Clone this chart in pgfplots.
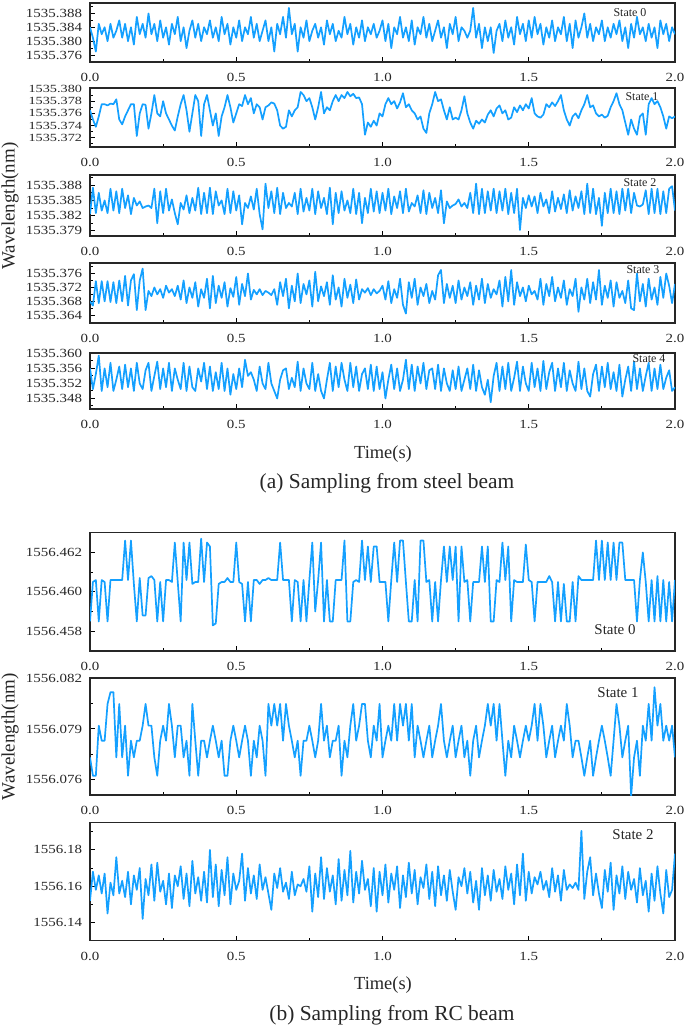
\documentclass[border=0pt]{standalone}
\usepackage{fontspec}
\setmainfont{Liberation Serif}
\newfontfamily\tickfont{Liberation Serif}[FakeStretch=1.2]
\newfontfamily\tickfontn{Liberation Serif}[FakeStretch=1.3]
\usepackage{pgfplots}
\usepackage{pgfplotstable}
\pgfplotsset{compat=1.18}
\definecolor{lineblue}{RGB}{20,160,255}
% Values: wavelength minus 1535 nm (panels a) or minus 1556 nm (panels b), in pm (0.001 nm); sampled every 0.01 s
\pgfplotstableread[header=false,row sep=\\]{
384\\381\\377\\385\\382\\384\\380\\385\\381\\383\\
386\\381\\385\\380\\384\\379\\387\\382\\385\\381\\
388\\382\\385\\380\\386\\381\\384\\379\\385\\382\\
387\\380\\384\\378\\383\\386\\381\\385\\380\\384\\
382\\386\\381\\384\\380\\387\\382\\385\\379\\384\\
381\\386\\380\\384\\382\\387\\381\\385\\380\\383\\
386\\380\\384\\377\\385\\382\\387\\381\\389.6\\382\\
385\\377\\384\\381\\386\\380\\383\\385\\381\\384\\
379\\386\\382\\385\\380\\383\\381\\387\\382\\385\\
379\\384\\381\\386\\380\\384\\382\\385\\381\\383\\
386\\380\\385\\378\\384\\382\\387\\381\\384\\380\\
386\\379\\384\\382\\387\\381\\385\\380\\383\\386\\
381\\384\\378\\385\\382\\387\\380\\384\\383\\381\\
383\\389.6\\381\\385\\378\\384\\380\\384\\376.6\\383\\
385\\380\\386\\381\\384\\379\\387\\382\\385\\380\\
386\\381\\387\\382\\385\\379\\384\\381\\386\\380\\
384\\382\\387\\380\\385\\378\\386\\381\\384\\388\\
381\\385\\380\\384\\382\\386\\380\\384\\381\\385\\
382\\386\\380\\384\\378\\385\\381\\387\\382\\384\\
380\\385\\381\\384\\378\\386\\382\\385\\380\\384\\
382\\}\dataAzero
\pgfplotstableread[header=false,row sep=\\]{
376.5\\375\\373.8\\375.5\\377.5\\377.5\\377.3\\377.6\\377.5\\378.3\\
375\\374.2\\375.5\\376.5\\377.5\\377.5\\372.3\\376\\377.5\\377.4\\
373.5\\376\\379\\376\\375.5\\378\\376\\375\\374\\373.2\\
375.5\\377.5\\379\\376.5\\373\\376\\379\\378\\372.3\\377.5\\
379\\376.5\\374\\376\\372.3\\375.5\\377\\379\\377\\374.5\\
376\\377.5\\377.2\\379\\377.5\\378.5\\376\\377.5\\377\\375\\
377\\377.3\\377.8\\377.6\\376.5\\374\\373.5\\373.8\\376.5\\375.5\\
376.5\\377\\379.5\\379\\378\\378.5\\377\\375\\377\\379.5\\
376\\377\\376.5\\378\\379\\378\\379\\378.5\\379.5\\378.8\\
379.2\\378.5\\378.6\\377.5\\372.5\\374.5\\373.8\\374.8\\374\\376\\
375.5\\377.5\\378.5\\377.5\\378\\376.8\\377.8\\379.3\\377\\377.5\\
376.5\\376\\375\\375.5\\373.5\\372.8\\376\\377.5\\379.5\\378\\
378.3\\376.5\\375\\377\\375\\375.3\\375\\376.5\\378.8\\376\\
374.5\\373.5\\374.8\\374.3\\375\\374.5\\375.8\\376.5\\375.5\\376.8\\
377.3\\376\\376.5\\375\\375.3\\377\\376.2\\377.3\\376.5\\377.5\\
376.8\\378.5\\376\\375.5\\375.3\\375.8\\377.5\\377\\377.8\\377.2\\
378\\379\\376.5\\375\\374\\375.5\\376\\375.2\\376.5\\377.5\\
379\\377\\377.3\\376\\375.5\\375.8\\375.3\\375.6\\377\\378\\
379.3\\377.5\\376.5\\374.5\\372.5\\375\\373.5\\372.5\\375.5\\376\\
372.5\\377.5\\378.5\\377.5\\378\\377\\375.5\\373.5\\375.5\\375.2\\
375.5\\}\dataAone
\pgfplotstableread[header=false,row sep=\\]{
382.3\\387.5\\382.5\\386.5\\383\\385\\382.5\\387.3\\383\\386.8\\
382.5\\387.3\\383.5\\386\\382.3\\385.5\\384\\384.8\\383.5\\383.8\\
384\\383.5\\387.3\\380.5\\386.8\\382.5\\387.3\\383\\385.2\\382.5\\
380.3\\384.5\\383.2\\386\\382.5\\385.5\\383\\387.5\\382.3\\386.5\\
382.5\\387.5\\382.3\\386.8\\384\\385\\382.3\\387.3\\382.5\\386.8\\
383\\386\\380.3\\384.5\\383.5\\385.8\\383.2\\387.3\\382.3\\379.3\\
388.3\\383.5\\386.8\\382.5\\387.5\\382.3\\386.5\\383.5\\384.5\\383.8\\
386.5\\382.3\\387.3\\382.8\\385.5\\383\\387.3\\382.3\\386.8\\383.5\\
385.5\\382.3\\387.5\\380.3\\386.5\\382.5\\386.8\\383\\385\\382.5\\
387.3\\382.3\\386.5\\380.5\\385.5\\382.5\\387.3\\382.8\\386.8\\382.5\\
386.5\\383\\387.3\\382.3\\385.8\\383.5\\386.8\\382.5\\387.3\\382.8\\
384.5\\383.8\\386\\382.5\\387\\382.3\\386.5\\383.5\\385.5\\382.5\\
387\\380.5\\384.8\\383.5\\384\\384.3\\385.2\\383.8\\384.5\\383.5\\
386.5\\382.5\\388.3\\382.3\\387.3\\382.5\\386.8\\383\\387.3\\382.5\\
386.8\\383\\387.3\\382.3\\386.5\\382.5\\387.3\\379.2\\385.5\\383.5\\
386\\383.8\\385.8\\382.5\\386.5\\383.8\\385.2\\382.5\\386.8\\382.8\\
385.5\\383.3\\386.2\\382.5\\387\\383\\385.8\\383.5\\386.8\\382.3\\
388.3\\382.5\\387.3\\382.3\\385.5\\380\\386.5\\382.5\\387.3\\382.5\\
386.8\\382.3\\387.3\\383\\387.3\\382.5\\386.5\\384\\383.8\\384.2\\
387\\382.3\\387.3\\382.5\\387.3\\382.3\\386.8\\382.5\\387.3\\387.8\\
383\\}\dataAtwo
\pgfplotstableread[header=false,row sep=\\]{
368\\366.8\\373.8\\367.5\\373.8\\368\\373.8\\367.8\\373.5\\367.5\\
374\\368\\375.3\\366.8\\374\\375.8\\365.5\\374\\377.4\\365.5\\
371\\369.5\\372\\370\\371.5\\369\\372.5\\370.5\\371.5\\369.5\\
372.5\\368.5\\374\\367.5\\372\\369\\373.5\\366.5\\371.5\\369\\
374.5\\366\\375.3\\367.5\\372.5\\369\\373.5\\366.5\\371.8\\369.3\\
375\\367\\373\\369.5\\376\\368.5\\371.3\\370\\371.5\\369.8\\
371\\370.5\\369.8\\371.5\\367\\373.5\\369.5\\374.5\\366\\372.5\\
368\\376\\367.5\\373\\370\\374\\366.5\\376.5\\368\\372.3\\
369.5\\373.5\\367\\375.5\\368.5\\372\\366.5\\374.5\\369\\372.8\\
367.5\\374.3\\368.5\\371.5\\370.5\\371.8\\369.8\\371.5\\370.3\\371\\
372.5\\368.5\\373.8\\367.5\\371.5\\369\\374.5\\367\\364.5\\373.5\\
369\\374.5\\367\\372\\369.5\\373\\367.5\\371\\368.5\\375.5\\
377\\367.5\\373\\369\\372.5\\367.5\\374\\368.5\\372\\369.5\\
373.5\\367\\372.5\\368.5\\374.5\\367.5\\373\\369\\371.5\\370\\
374\\366.5\\375\\368\\377\\367\\373.5\\369.5\\372\\368\\
372.5\\370\\371\\368.5\\374.5\\367\\373\\369.5\\375\\368\\
372\\369\\374\\367\\371.5\\369.5\\374.5\\365\\372\\368.5\\
374.5\\367.5\\373.5\\368.5\\377\\367\\372.5\\369\\374\\366.5\\
373.5\\369\\371\\367.5\\374\\366\\365.5\\376\\368\\373\\
366.5\\374.5\\368.5\\372\\367\\375\\369\\376\\372.5\\367.5\\
373\\}\dataAthree
\pgfplotstableread[header=false,row sep=\\]{
356\\350.5\\354.5\\359.4\\350\\356\\351\\357.5\\350\\353\\
356.5\\350.5\\357\\351\\356\\350\\357.5\\352\\350.5\\355.5\\
357.5\\350\\354\\357.8\\350.5\\356\\351\\357.5\\350\\356\\
353\\350.5\\357.5\\350\\356.5\\351\\350\\356\\352.5\\357.5\\
350.5\\356.5\\350\\355\\350.5\\357.5\\350\\356\\349\\354.5\\
350.5\\356\\351\\358.3\\354\\355\\353\\350\\356.5\\352\\
350.5\\357.5\\352\\350\\348\\353\\355.5\\356\\350.5\\353.5\\
351\\357.8\\350\\356\\352\\350.5\\357.5\\350\\354.5\\350\\
348\\353\\357.5\\350\\356.5\\351\\357.5\\353\\350\\357.5\\
351\\356.5\\350\\354.5\\356\\350.5\\357\\350\\356.5\\350.5\\
355\\348\\353\\357\\350.5\\356\\350\\353\\358.3\\350.5\\
357\\350\\356.5\\352\\357.5\\350.5\\355.5\\356\\350.5\\357\\
350\\356\\352\\350\\355.5\\350.5\\356.5\\350\\353\\356\\
350.5\\357\\350\\355.5\\351\\349\\353\\347\\354\\357.5\\
350\\356.5\\350.5\\357.5\\350\\353.5\\357.8\\350\\356.5\\352\\
350\\357.5\\351\\356\\350\\358\\350.5\\355\\357.5\\350\\
356\\351\\357.5\\350\\355.5\\352\\350\\357.8\\350.5\\356\\
350\\348.5\\354.5\\357\\350\\356.5\\351\\357.5\\350.5\\355\\
350\\357\\348.5\\353\\356.5\\350\\357.8\\350.5\\356\\350\\
354\\357.5\\350\\356\\350.5\\357\\350.5\\353.5\\355.5\\350\\
351\\}\dataAfour
\pgfplotstableread[header=false,row sep=\\]{
458.5\\460.5\\460.6\\458.5\\460.6\\460.5\\458.5\\460.6\\460.6\\460.6\\
460.6\\460.6\\462.6\\460.6\\462.6\\460.4\\458.5\\460.7\\458.8\\458.8\\
460.7\\460.8\\460.6\\458.5\\460.5\\458.5\\460.6\\460.6\\460.5\\462.5\\
460.5\\458.5\\462.5\\460.6\\462.5\\460.4\\460.5\\460.5\\462.7\\460.5\\
462.5\\462.3\\458.3\\458.4\\460.4\\460.5\\460.5\\460.7\\460.5\\460.5\\
462.5\\460.5\\460.4\\458.5\\460.5\\458.5\\460.6\\460.6\\460.4\\460.6\\
460.6\\460.7\\460.6\\460.6\\460.6\\462.5\\460.6\\460.6\\460.6\\458.5\\
460.6\\460.5\\458.5\\460.6\\458.5\\460.6\\462.5\\459\\460.6\\462.5\\
458.5\\460.6\\458.5\\458.5\\460.6\\460.6\\460.6\\462.6\\458.5\\458.5\\
460.5\\460.6\\460.5\\462.6\\460.6\\462.3\\460.5\\462.3\\462.3\\460.5\\
460.5\\460.5\\458.5\\460.6\\462.5\\460.5\\462.6\\462.6\\460.5\\458.5\\
458.5\\460.6\\458.5\\462.6\\462.6\\460.5\\460.6\\458.5\\460.5\\458.5\\
460.6\\462.3\\460.5\\462.3\\460.6\\462.3\\458.5\\462.3\\460.5\\460.6\\
458.5\\460.5\\460.5\\460.5\\462.3\\460.5\\462.3\\458.5\\458.5\\460.6\\
460.5\\462.5\\460.6\\462.3\\458.5\\460.6\\460.5\\460.5\\460.5\\462.4\\
460.6\\460.5\\458.5\\460.5\\460.5\\460.5\\460.5\\460.8\\460.5\\458.5\\
460.5\\458.5\\460.4\\458.5\\458.5\\460.5\\458.5\\460.8\\460.6\\460.6\\
460.6\\460.6\\460.6\\462.6\\460.6\\462.6\\460.6\\462.5\\460.6\\462.5\\
460.6\\462.5\\462.5\\460.6\\460.6\\460.6\\460.6\\458.5\\460.6\\462\\
460.5\\458.5\\460.6\\458.5\\460.8\\458.5\\460.6\\458.5\\460.5\\458.5\\
460.6\\}\dataBzero
\pgfplotstableread[header=false,row sep=\\]{
77.3\\76.2\\76.2\\79.2\\78.3\\78.3\\80.5\\81.2\\81.2\\77.3\\
80.5\\77.3\\79.2\\76.2\\78.3\\77.3\\78.3\\78.3\\79.2\\80.5\\
79.2\\79.2\\77.3\\76.2\\78.3\\79.2\\78.3\\80.5\\79.2\\77.3\\
79.2\\79.2\\77.3\\78.3\\76.2\\80.5\\78.3\\76.2\\78.3\\78.3\\
77.3\\78.3\\79.2\\78.3\\77.3\\78.3\\76.2\\76.2\\78.3\\79.2\\
78.3\\77.3\\78.3\\79.2\\78.3\\76.2\\78.3\\77.3\\79.2\\78.3\\
76.2\\80.5\\79.2\\80.5\\79.2\\80.5\\78.3\\80.5\\79.2\\78.3\\
77.3\\78.3\\76.2\\78.3\\78.3\\79.2\\78.3\\77.3\\78.3\\80.5\\
78.3\\79.2\\77.3\\78.3\\78.3\\79.2\\76.2\\78.3\\77.3\\79.2\\
80.5\\78.3\\79.2\\80.5\\80.5\\78.3\\77.3\\79.2\\78.3\\80.5\\
77.3\\78.3\\79.2\\78.3\\80.5\\78.3\\80.5\\79.2\\80.5\\78.3\\
80.5\\77.3\\79.2\\78.3\\77.3\\78.3\\79.2\\77.3\\78.3\\79.2\\
80.5\\78.3\\77.3\\78.3\\79.2\\77.3\\78.3\\79.2\\77.3\\78.3\\
76.2\\78.3\\79.2\\77.3\\78.3\\79.2\\80.5\\79.2\\80.5\\78.3\\
80.5\\78.3\\76.2\\78.3\\77.3\\79.2\\78.3\\77.3\\78.3\\79.2\\
78.3\\79.2\\80.5\\78.3\\80.5\\79.2\\77.3\\78.3\\79.2\\77.3\\
78.3\\79.2\\78.3\\80.5\\79.2\\77.3\\78.3\\78.3\\77.3\\76.2\\
77.3\\78.3\\76.2\\77.3\\78.3\\79.2\\78.3\\77.3\\76.2\\78.3\\
80.5\\79.2\\77.3\\78.3\\79.2\\75.0\\77.3\\78.3\\76.2\\79.2\\
78.3\\80.5\\78.3\\81.5\\79.2\\80.5\\78.3\\79.2\\78.3\\79.2\\
77.3\\}\dataBone
\pgfplotstableread[header=false,row sep=\\]{
152\\168\\158\\166\\156\\167\\145\\162\\155\\176\\
156\\163\\154\\168\\150\\166\\158\\170\\142\\164\\
155\\172\\152\\173\\157\\163\\150\\167\\148\\166\\
160\\171\\153\\167\\149\\174\\156\\165\\152\\168\\
151\\180\\154\\172\\149\\169\\155\\176\\150\\167\\
158\\163\\178\\152\\170\\156\\166\\153\\172\\158\\
165\\156\\147\\167\\159\\170\\157\\162\\153\\168\\
155\\161\\160\\164\\157\\171\\146\\167\\154\\176\\
153\\170\\157\\166\\150\\175\\152\\169\\155\\179.5\\
151\\168\\156\\174\\158\\164\\149\\170\\146\\168\\
155\\172\\151\\167\\158\\171\\148\\166\\154\\173\\
156\\169\\150\\165\\159\\172\\153\\168\\149\\171\\
155\\166\\152\\169\\157\\147\\165\\160\\170\\156\\
168\\151\\163\\147\\170\\155\\166\\152\\169\\157\\
164\\153\\171\\158\\167\\150\\172\\155\\178\\152\\
168\\156\\165\\161\\168\\158\\163\\154\\170\\157\\
166\\152\\169\\158\\161\\159\\162\\158\\190.5\\153\\
168\\176\\155\\167\\156\\148\\169\\157\\173\\147\\
166\\156\\171\\153\\168\\158\\164\\151\\170\\155\\
163\\146\\167\\152\\171\\156\\145\\169\\154\\158\\
178\\}\dataBtwo
\begin{document}
\begin{tikzpicture}
\useasboundingbox (0,0) rectangle (685bp,-1027bp);
\pgfplotsset{
  panel/.style={
    scale only axis, width=585bp, anchor=north west,
    xmin=0, xmax=2,
    xtick={0,0.5,1,1.5,2}, xticklabels={0.0,0.5,1.0,1.5,2.0},
    minor xtick={0.25,0.75,1.25,1.75},
    tick align=inside, xtick pos=bottom, ytick pos=left,
    major tick length=5bp, minor tick length=3bp,
    axis line style={line width=1.2bp, black!85},
    every tick/.style={black, line width=1bp},
    tick label style={font=\tickfont\fontsize{12.5}{12.5}\selectfont, text=black!85},
    xticklabel style={yshift=-8bp},
    yticklabel style={inner sep=0.3bp, xshift=-7.5bp},
    /pgf/number format/assume math mode=true,
  },
  sig/.style={color=lineblue, line width=1.7bp, mark=none, line join=round},
}
% (a) steel beam
\begin{axis}[panel, at={(90bp,-3bp)}, height=59bp, ymin=374, ymax=391,
  ytick={376,380,384,388}, yticklabels={1535.376,1535.380,1535.384,1535.388},
  minor ytick={378,382,386,390}]
\addplot[sig] table[x expr=\coordindex*0.01, y index=0]{\dataAzero};
\end{axis}
\begin{axis}[panel, at={(90bp,-88bp)}, height=59bp, ymin=370.5, ymax=380.15,
  ytick={372,374,376,378,380}, yticklabels={1535.372,1535.374,1535.376,1535.378,1535.380},
  minor ytick={371,373,375,377,379},
  yticklabel style={font=\tickfontn\fontsize{11}{11}\selectfont}]
\addplot[sig] table[x expr=\coordindex*0.01, y index=0]{\dataAone};
\end{axis}
\begin{axis}[panel, at={(90bp,-175bp)}, height=61bp, ymin=378, ymax=390,
  ytick={379,382,385,388}, yticklabels={1535.379,1535.382,1535.385,1535.388},
  minor ytick={380.5,383.5,386.5,389.5}]
\addplot[sig] table[x expr=\coordindex*0.01, y index=0]{\dataAtwo};
\end{axis}
\begin{axis}[panel, at={(90bp,-263bp)}, height=60bp, ymin=361.8, ymax=379,
  ytick={364,368,372,376}, yticklabels={1535.364,1535.368,1535.372,1535.376},
  minor ytick={366,370,374,378}]
\addplot[sig] table[x expr=\coordindex*0.01, y index=0]{\dataAthree};
\end{axis}
\begin{axis}[panel, at={(90bp,-353bp)}, height=56bp, ymin=345.2, ymax=360.1,
  ytick={348,352,356,360}, yticklabels={1535.348,1535.352,1535.356,1535.360},
  minor ytick={346,350,354,358}]
\addplot[sig] table[x expr=\coordindex*0.01, y index=0]{\dataAfour};
\end{axis}
% (b) RC beam
\begin{axis}[panel, at={(90bp,-532.7bp)}, height=118.3bp, ymin=457, ymax=463,
  ytick={458,460,462}, yticklabels={1556.458,1556.460,1556.462},
  minor ytick={459,461}]
\addplot[sig] table[x expr=\coordindex*0.01, y index=0]{\dataBzero};
\end{axis}
\begin{axis}[panel, at={(90bp,-678bp)}, height=117bp, ymin=75.05, ymax=82.05,
  ytick={76,79,82}, yticklabels={1556.076,1556.079,1556.082},
  minor ytick={77.5,80.5}]
\addplot[sig] table[x expr=\coordindex*0.01, y index=0]{\dataBone};
\end{axis}
\begin{axis}[panel, at={(90bp,-822.7bp)}, height=118bp, ymin=130, ymax=195,
  ytick={140,160,180}, yticklabels={1556.14,1556.16,1556.18},
  minor ytick={150,170,190}]
\addplot[sig] table[x expr=\coordindex*0.01, y index=0]{\dataBtwo};
\end{axis}
% state labels
\begin{scope}[every node/.style={font=\fontsize{12}{12}\selectfont, text=black!85, inner sep=0pt}]
\node at (630bp,-13bp) {State 0};
\node at (642bp,-97bp) {State 1};
\node at (640bp,-183bp) {State 2};
\node at (643bp,-270bp) {State 3};
\node at (649bp,-359bp) {State 4};
\end{scope}
\begin{scope}[every node/.style={font=\fontsize{15}{15}\selectfont, text=black!85, inner sep=0pt}]
\node at (615bp,-630bp) {State 0};
\node at (618bp,-693bp) {State 1};
\node at (633bp,-835bp) {State 2};
\end{scope}
% axis titles and captions
\begin{scope}[every node/.style={text=black!85, inner sep=0pt}]
\node[rotate=90, font=\fontsize{19}{19}\selectfont] at (10bp,-206bp) {Wavelength(nm)};
\node[font=\fontsize{18.5}{18.5}\selectfont] at (383bp,-454bp) {Time(s)};
\node[font=\fontsize{21.5}{21.5}\selectfont] at (387bp,-483bp) {(a) Sampling from steel beam};
\node[rotate=90, font=\fontsize{19}{19}\selectfont] at (10bp,-736.7bp) {Wavelength(nm)};
\node[font=\fontsize{18.5}{18.5}\selectfont] at (383bp,-985bp) {Time(s)};
\node[font=\fontsize{21.5}{21.5}\selectfont] at (392bp,-1015bp) {(b) Sampling from RC beam};
\end{scope}
\end{tikzpicture}
\end{document}
